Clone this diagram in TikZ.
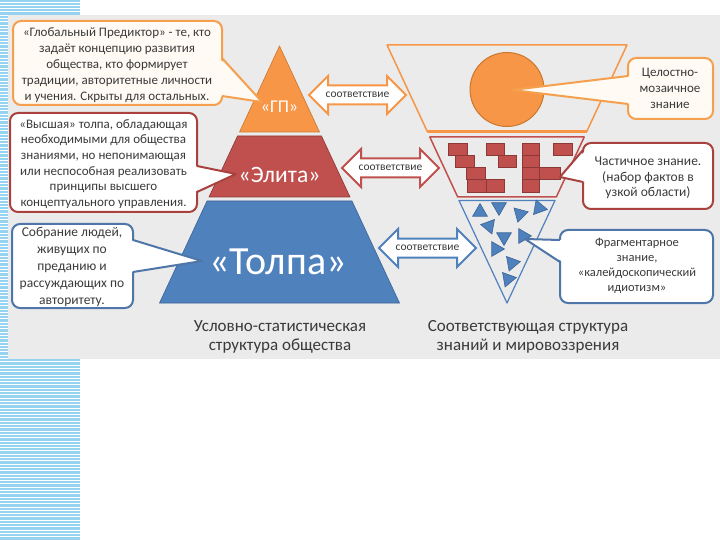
\documentclass[tikz,border=0pt]{standalone}
\usepackage{fontspec}
\setmainfont{Carlito}
\usetikzlibrary{shapes.arrows,shapes.geometric}
\definecolor{panel}{HTML}{EBEBEB}
\definecolor{stripe}{HTML}{95D3F0}
\definecolor{orF}{HTML}{F79646}
\definecolor{orD}{HTML}{C9772F}
\definecolor{rdF}{HTML}{C0504D}
\definecolor{rdD}{HTML}{8C3836}
\definecolor{blF}{HTML}{4F81BD}
\definecolor{blD}{HTML}{3A6496}
\definecolor{txt}{HTML}{3A3A3A}
\definecolor{calO}{HTML}{F5A04F}
\definecolor{calR}{HTML}{A9423F}
\definecolor{calB}{HTML}{4F76A8}
\definecolor{fillO}{HTML}{FFFAF3}
\begin{document}
\begin{tikzpicture}[x=1pt,y=-1pt,
  boxO/.style={draw=calO, fill=fillO, line width=2pt, rounded corners=8pt},
  boxR/.style={draw=calR, fill=white, line width=2pt, rounded corners=8pt},
  boxB/.style={draw=calB, fill=white, line width=2pt, rounded corners=8pt},
  edgeO/.style={draw=calO, line width=2pt, line join=round},
  edgeR/.style={draw=calR, line width=2pt, line join=round},
  edgeB/.style={draw=calB, line width=2pt, line join=round},
  ctext/.style={align=center, text=txt, inner sep=0pt},
  darrow/.style={double arrow, fill=white, line width=2pt, minimum height=97pt,
     double arrow head extend=9.5pt, inner xsep=0pt, inner ysep=8.5pt},
  atext/.style={text=txt, inner sep=0pt, font=\fontsize{11.5}{13}\selectfont},
  brick/.style={fill=rdF, draw=rdD, line width=0.6pt},
  tri/.style={regular polygon, regular polygon sides=3, minimum size=17pt, inner sep=0pt,
     fill=blF, draw=blD, line width=0.6pt},
  plabel/.style={text=white, inner sep=0pt}
]
\useasboundingbox (0,0) rectangle (720,540);
\fill[white] (0,0) rectangle (720,540);
% striped strip
\fill[stripe] (0,0) rectangle (80,540);
\foreach \i in {0,...,163} \draw[white, line width=0.8pt] (0,\i*3.3+2) -- (80,\i*3.3+2);
% panel
\fill[panel] (8,15) rectangle (720,359);

% pyramid
\filldraw[fill=orF, draw=orD, line width=0.6pt] (279.5,46) -- (319.5,132) -- (239.5,132) -- cycle;
\filldraw[fill=rdF, draw=rdD, line width=0.6pt] (237.5,136) -- (321.5,136) -- (350,197) -- (209,197) -- cycle;
\filldraw[fill=blF, draw=blD, line width=0.6pt] (207,201) -- (352,201) -- (399.5,303) -- (159.5,303) -- cycle;

% funnel
\draw[orF, line width=1.5pt, line join=round] (387,45) -- (627,45) -- (586.5,132) -- (427.5,132) -- cycle;
\draw[orF, line width=3pt] (427.5,132) -- (586.5,132);
\filldraw[fill=orF, draw=orD, line width=1pt] (507,89.5) circle[radius=37];
\draw[rdF, line width=1.5pt, line join=round] (429.8,137) -- (584.2,137) -- (556.3,197) -- (457.7,197) -- cycle;
\draw[blF, line width=1.2pt, line join=round] (459,200.5) -- (555,200.5) -- (507,303) -- cycle;

% bricks
\foreach \xa/\ya/\xb/\yb in {448/143/467/155, 486/143/504/155, 522/143/539/155, 553/143/572/155,
   455/155/474/167, 498/155/516/167, 522/155/539/167,
   466/167/485/179, 522/167/539/179, 539/167/560/179,
   467/179/486/192, 486/179/504/192, 522/179/539/192}
  \draw[brick] (\xa,\ya) rectangle (\xb,\yb);

% fragments
\node[tri, rotate=0]    (t1)  at (480,212) {};
\node[tri, rotate=180]  (t2)  at (499,207) {};
\node[tri, rotate=45]   (t3)  at (520,214) {};
\node[tri, rotate=-100] (t4)  at (539,208) {};
\node[tri, rotate=80]   (t5)  at (489,226) {};
\node[tri, rotate=180]  (t6)  at (504,237) {};
\node[tri, rotate=30]   (t7)  at (523,236) {};
\node[tri, rotate=-90]  (t8)  at (496,249) {};
\node[tri, rotate=160]  (t9)  at (512,263) {};
\node[tri, rotate=-80]  (t10) at (508,279) {};

% pyramid labels
\node[plabel, font=\fontsize{18}{21}\selectfont] (gp) at (279.5,107) {«ГП»};
\node[plabel, font=\fontsize{23.5}{28}\selectfont] (el) at (279.5,175) {«Элита»};
\node[plabel, font=\fontsize{40}{46}\selectfont] (tp) at (278,262) {«Толпа»};

% arrows
\node[darrow, draw=orF] (a1) at (357.5,95) {};
\node[atext] (a1t) at (a1.center) {соответствие};
\node[darrow, draw=rdF] (a2) at (390.5,168) {};
\node[atext] (a2t) at (a2.center) {соответствие};
\node[darrow, draw=blF] (a3) at (427.5,248) {};
\node[atext] (a3t) at (a3.center) {соответствие};

% left callouts
\draw[boxO] (13,21) rectangle (222,105);
\fill[fillO] (219,58) -- (262,102) -- (219,96) -- cycle;
\draw[edgeO] (222,58) -- (262,102) -- (222,96);

\draw[boxR] (10,113) rectangle (197,212);
\fill[white] (194,166) -- (236,174) -- (194,192) -- cycle;
\draw[edgeR] (197,166) -- (236,174) -- (197,192);

\draw[boxB] (12,224) rectangle (133,308);
\fill[white] (130,240) -- (202,261) -- (130,272) -- cycle;
\draw[edgeB] (133,240) -- (202,261) -- (133,272);

% right callouts
\draw[boxO] (628,58) rectangle (713,119);
\fill[fillO] (631,76) -- (512,90) -- (631,104) -- cycle;
\draw[edgeO] (628,76) -- (512,90) -- (628,104);

\draw[boxR] (583,143) rectangle (713,209);
\fill[white] (586,150) -- (560,177) -- (586,182) -- cycle;
\draw[edgeR] (583,150) -- (560,177) -- (583,182);

\draw[boxB] (560,230) rectangle (713,303);
\fill[white] (563,240) -- (525,239) -- (563,262) -- cycle;
\draw[edgeB] (560,240) -- (525,239) -- (560,262);

% callout texts
\node[ctext, font=\fontsize{13}{16}\selectfont] (c1) at (117,65)
  {«Глобальный Предиктор» - те, кто\\задаёт концепцию развития\\общества, кто формирует\\традиции, авторитетные личности\\и учения. Скрыты для остальных.};
\node[ctext, font=\fontsize{13}{15.6}\selectfont] (c2) at (103.5,164)
  {«Высшая» толпа, обладающая\\необходимыми для общества\\знаниями, но непонимающая\\или неспособная реализовать\\принципы высшего\\концептуального управления.};
\node[ctext, font=\fontsize{13.5}{17}\selectfont] (c3) at (72,267)
  {Собрание людей,\\живущих по\\преданию и\\рассуждающих по\\авторитету.};
\node[ctext, font=\fontsize{13}{16}\selectfont] (c4) at (670,88)
  {Целостно-\\мозаичное\\знание};
\node[ctext, font=\fontsize{13.5}{15.5}\selectfont] (c5) at (648,178)
  {Частичное знание.\\(набор фактов в\\узкой области)};
\node[ctext, font=\fontsize{12.5}{15}\selectfont] (c6) at (637,266)
  {Фрагментарное\\знание,\\«калейдоскопический\\идиотизм»};

% bottom labels
\node[ctext, font=\fontsize{17}{18.5}\selectfont] (lb1) at (280,337)
  {Условно-статистическая\\структура общества};
\node[ctext, font=\fontsize{17}{18.5}\selectfont] (lb2) at (528,337)
  {Соответствующая структура\\знаний и мировоззрения};
\end{tikzpicture}
\end{document}
